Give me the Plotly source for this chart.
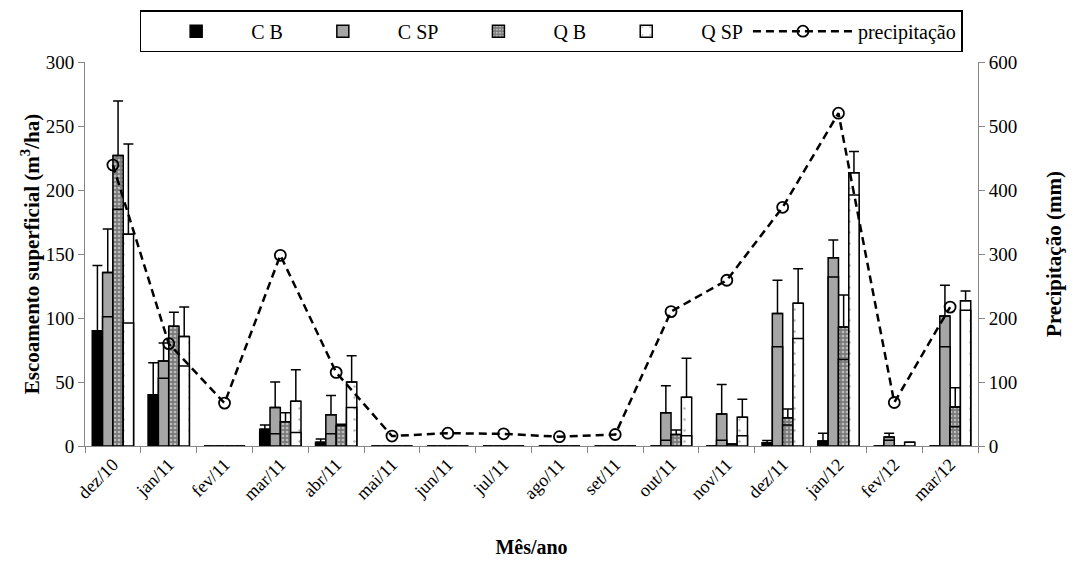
import plotly.graph_objects as go

months = ['dez/10', 'jan/11', 'fev/11', 'mar/11', 'abr/11', 'mai/11', 'jun/11', 'jul/11',
          'ago/11', 'set/11', 'out/11', 'nov/11', 'dez/11', 'jan/12', 'fev/12', 'mar/12']

cb = [90, 40, 0, 13, 3, 0, 0, 0, 0, 0, 0, 0, 2.5, 4, 0, 0]
cb_err = [51, 25, 0, 3.5, 2.5, 0, 0, 0, 0, 0, 0, 0, 1.7, 6, 0, 0]

csp = [135.5, 66.5, 0, 30, 24.5, 0, 0, 0, 0, 0, 26, 25, 103.5, 147, 7, 101.5]
csp_err = [34, 14, 0, 20, 15, 0, 0, 0, 0, 0, 21, 23, 26, 14, 3, 24]
csp_inner = [101, 53, None, 9.5, 9.5, None, None, None, None, None, 4.5, 4.5, 77.5, 132, 4.5, 77.5]

qb = [227, 93.5, 0, 19, 16, 0, 0, 0, 0, 0, 9, 1.5, 22, 93, 0, 30.5]
qb_err = [42.5, 11, 0, 7, 1, 0, 0, 0, 0, 0, 3.5, 0, 7, 25, 0, 15]
qb_inner = [185, None, None, None, None, None, None, None, None, None, None, None, 16.5, 67.5, None, 15]

qsp = [165.5, 85.5, 0, 35, 50, 0, 0, 0, 0, 0, 38, 22.5, 111.5, 213.5, 3, 113.5]
qsp_err = [70.5, 23, 0, 24.5, 20.5, 0, 0, 0, 0, 0, 30.5, 14, 27, 16.5, 0, 7.5]
qsp_inner = [96, 62.5, None, 10.5, 30, None, None, None, None, None, 8, 8, 84, 196, None, 106]

precip = [439, 160, 67, 298, 115, 15.5, 20, 19, 14.5, 18, 210, 259, 373, 520, 68, 217]

FONT = "Liberation Serif"
AX = "#868686"

fig = go.Figure()

def err(arr):
    return dict(type='data', array=arr, arrayminus=[0] * len(arr), symmetric=False,
                color='black', thickness=1.5, width=5)

line = dict(color='black', width=1.5)

series = [
    ('C B', cb, cb_err, None, dict(color='black', line=line)),
    ('C SP', csp, csp_err, csp_inner, dict(color='#a6a6a6', line=line)),
    ('Q B', qb, qb_err, qb_inner, dict(color='#8c8c8c', line=line,
                                       pattern=dict(shape='.', fgcolor='white', bgcolor='#7a7a7a',
                                                    size=4, solidity=0.35))),
    ('Q SP', qsp, qsp_err, qsp_inner, dict(color='white', line=line,
                                           pattern=dict(shape='.', fgcolor='#666666', bgcolor='white',
                                                        size=11, solidity=0.04))),
]

for name, vals, e, inner, marker in series:
    fig.add_trace(go.Bar(x=months, y=vals, name=name, marker=marker, error_y=err(e),
                         offsetgroup=name, yaxis='y'))
    if inner is not None:
        fig.add_trace(go.Bar(x=months, y=inner, name=name + ' inner', marker=marker,
                             offsetgroup=name, showlegend=False, hoverinfo='skip', yaxis='y'))

fig.add_trace(go.Scatter(x=months, y=precip, name='precipitação', yaxis='y2',
                         mode='lines+markers',
                         line=dict(color='black', width=2.5, dash='8px,5px'),
                         marker=dict(symbol='circle-open', size=11, color='black',
                                     line=dict(color='black', width=1.8))))

fig.update_layout(
    width=1070, height=566,
    margin=dict(l=77, r=100, t=54, b=128, autoexpand=False),
    paper_bgcolor='white', plot_bgcolor='white',
    font=dict(family=FONT, size=18, color='black'),
    barmode='group', bargap=0.26, bargroupgap=0,
    showlegend=True,
    legend=dict(orientation='h', x=0.522, xanchor='center', y=1.135, yanchor='top',
                bordercolor='black', borderwidth=1.5, font=dict(size=20, family=FONT),
                traceorder='normal', itemwidth=100),
    xaxis=dict(type='category', showline=True, linecolor=AX, linewidth=1,
               ticks='outside', tickcolor=AX, ticklen=6, tickson='boundaries',
               tickangle=-45, tickfont=dict(size=18), showgrid=False,
               title=dict(text='<b>Mês/ano</b>', font=dict(size=20), standoff=36),
               range=[-0.5, 15.5]),
    yaxis=dict(range=[0, 300], dtick=50, showline=True, linecolor=AX, linewidth=1,
               ticks='outside', tickcolor=AX, ticklen=6, showgrid=False, zeroline=False,
               tickfont=dict(size=19),
               title=dict(text='<b>Escoamento superficial (m<sup>3</sup>/ha)</b>',
                          font=dict(size=21), standoff=0)),
    yaxis2=dict(range=[0, 600], dtick=100, overlaying='y', side='right', showline=True,
                linecolor=AX, linewidth=1, ticks='outside', tickcolor=AX, ticklen=6,
                showgrid=False, zeroline=False, tickfont=dict(size=19),
                title=dict(text='<b>Precipitação (mm)</b>', font=dict(size=21), standoff=30)),
)

fig.write_html("out.html")
